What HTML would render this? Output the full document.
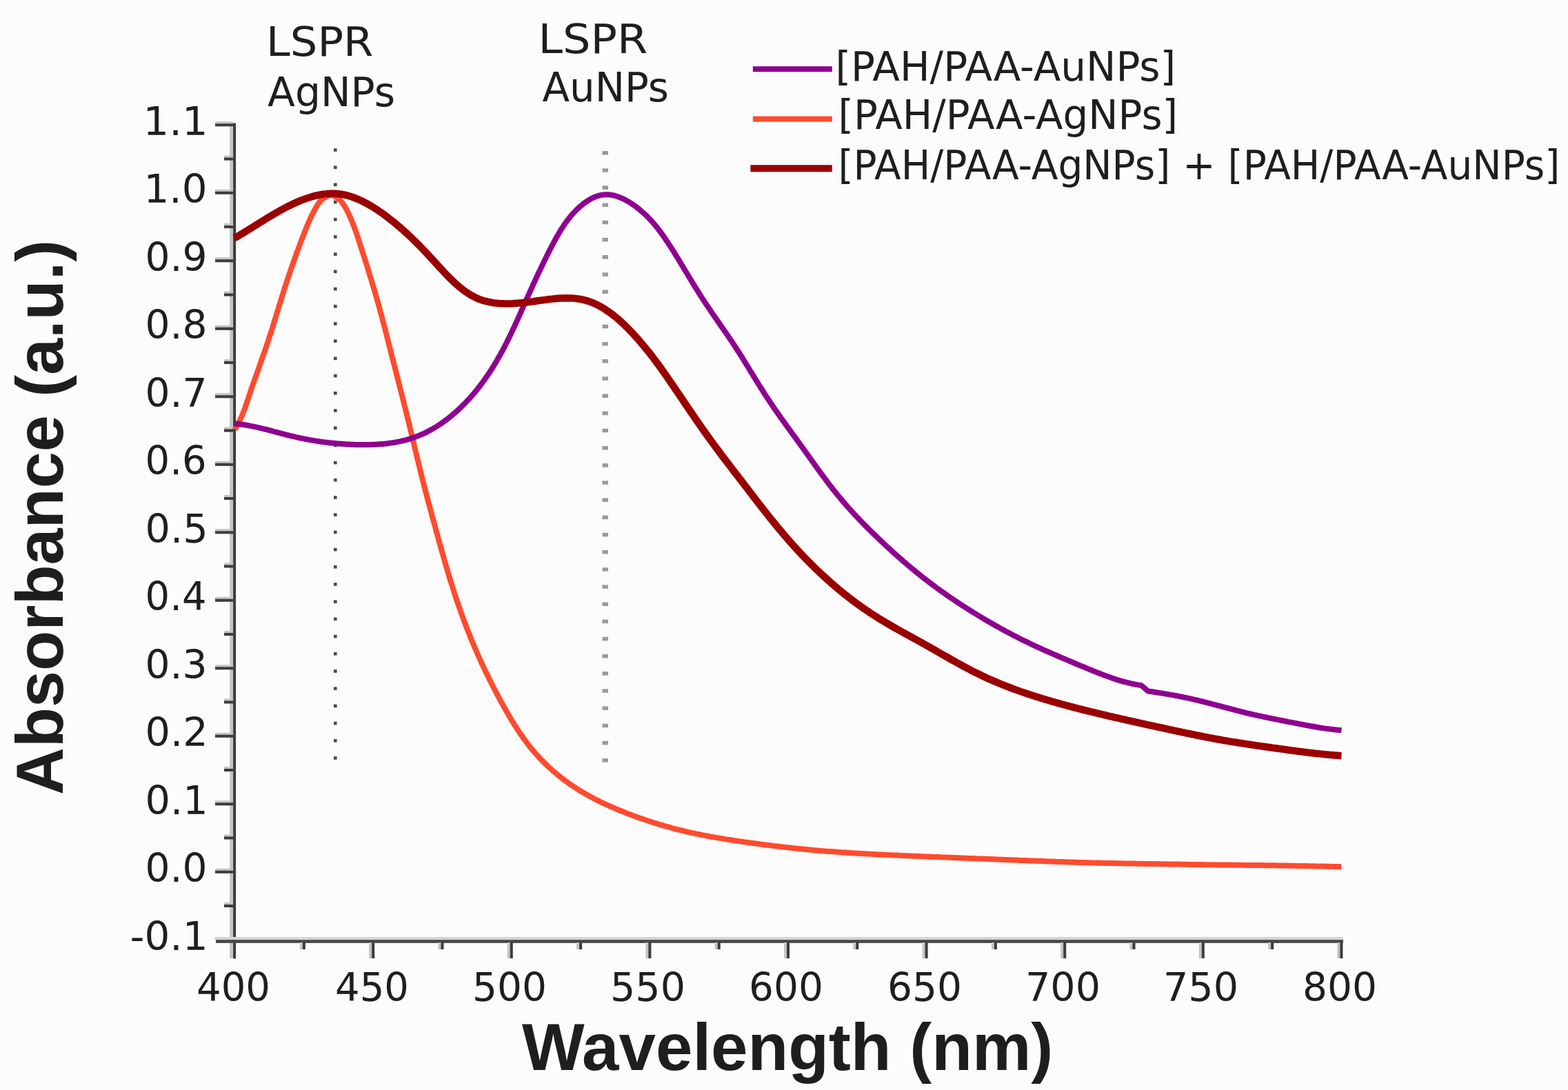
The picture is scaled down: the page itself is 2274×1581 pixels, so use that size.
<!DOCTYPE html>
<html><head><meta charset="utf-8"><title>Absorbance spectra</title>
<style>html,body{margin:0;padding:0;background:#fcfcfc;}svg{display:block;}</style></head>
<body><svg xmlns="http://www.w3.org/2000/svg" width="2274" height="1581" viewBox="0 0 2274 1581">
<rect width="2274" height="1581" fill="#fcfcfc"/>
<rect x="333.2" y="180" width="5" height="1210" fill="#c4c4c4"/>
<rect x="338.1" y="178.5" width="4" height="1212" fill="#3c3c3c"/>
<rect x="311" y="1359" width="1637" height="4.2" fill="#d4d4d4"/>
<rect x="313" y="1363.2" width="1635" height="4.6" fill="#454545"/>
<rect x="312" y="176.3" width="26.1" height="3.5" fill="#c4c4c4"/>
<rect x="312" y="179.3" width="26.1" height="4" fill="#3c3c3c"/>
<rect x="325" y="225.6" width="13.1" height="3.5" fill="#c4c4c4"/>
<rect x="325" y="228.6" width="13.1" height="4" fill="#3c3c3c"/>
<rect x="312" y="274.8" width="26.1" height="3.5" fill="#c4c4c4"/>
<rect x="312" y="277.8" width="26.1" height="4" fill="#3c3c3c"/>
<rect x="325" y="324.1" width="13.1" height="3.5" fill="#c4c4c4"/>
<rect x="325" y="327.1" width="13.1" height="4" fill="#3c3c3c"/>
<rect x="312" y="373.3" width="26.1" height="3.5" fill="#c4c4c4"/>
<rect x="312" y="376.3" width="26.1" height="4" fill="#3c3c3c"/>
<rect x="325" y="422.6" width="13.1" height="3.5" fill="#c4c4c4"/>
<rect x="325" y="425.6" width="13.1" height="4" fill="#3c3c3c"/>
<rect x="312" y="471.8" width="26.1" height="3.5" fill="#c4c4c4"/>
<rect x="312" y="474.8" width="26.1" height="4" fill="#3c3c3c"/>
<rect x="325" y="521.0" width="13.1" height="3.5" fill="#c4c4c4"/>
<rect x="325" y="524.0" width="13.1" height="4" fill="#3c3c3c"/>
<rect x="312" y="570.3" width="26.1" height="3.5" fill="#c4c4c4"/>
<rect x="312" y="573.3" width="26.1" height="4" fill="#3c3c3c"/>
<rect x="325" y="619.5" width="13.1" height="3.5" fill="#c4c4c4"/>
<rect x="325" y="622.5" width="13.1" height="4" fill="#3c3c3c"/>
<rect x="312" y="668.8" width="26.1" height="3.5" fill="#c4c4c4"/>
<rect x="312" y="671.8" width="26.1" height="4" fill="#3c3c3c"/>
<rect x="325" y="718.0" width="13.1" height="3.5" fill="#c4c4c4"/>
<rect x="325" y="721.0" width="13.1" height="4" fill="#3c3c3c"/>
<rect x="312" y="767.3" width="26.1" height="3.5" fill="#c4c4c4"/>
<rect x="312" y="770.3" width="26.1" height="4" fill="#3c3c3c"/>
<rect x="325" y="816.5" width="13.1" height="3.5" fill="#c4c4c4"/>
<rect x="325" y="819.5" width="13.1" height="4" fill="#3c3c3c"/>
<rect x="312" y="865.8" width="26.1" height="3.5" fill="#c4c4c4"/>
<rect x="312" y="868.8" width="26.1" height="4" fill="#3c3c3c"/>
<rect x="325" y="915.0" width="13.1" height="3.5" fill="#c4c4c4"/>
<rect x="325" y="918.0" width="13.1" height="4" fill="#3c3c3c"/>
<rect x="312" y="964.3" width="26.1" height="3.5" fill="#c4c4c4"/>
<rect x="312" y="967.3" width="26.1" height="4" fill="#3c3c3c"/>
<rect x="325" y="1013.5" width="13.1" height="3.5" fill="#c4c4c4"/>
<rect x="325" y="1016.5" width="13.1" height="4" fill="#3c3c3c"/>
<rect x="312" y="1062.8" width="26.1" height="3.5" fill="#c4c4c4"/>
<rect x="312" y="1065.8" width="26.1" height="4" fill="#3c3c3c"/>
<rect x="325" y="1112.0" width="13.1" height="3.5" fill="#c4c4c4"/>
<rect x="325" y="1115.0" width="13.1" height="4" fill="#3c3c3c"/>
<rect x="312" y="1161.3" width="26.1" height="3.5" fill="#c4c4c4"/>
<rect x="312" y="1164.3" width="26.1" height="4" fill="#3c3c3c"/>
<rect x="325" y="1210.5" width="13.1" height="3.5" fill="#c4c4c4"/>
<rect x="325" y="1213.5" width="13.1" height="4" fill="#3c3c3c"/>
<rect x="312" y="1259.8" width="26.1" height="3.5" fill="#c4c4c4"/>
<rect x="312" y="1262.8" width="26.1" height="4" fill="#3c3c3c"/>
<rect x="325" y="1309.0" width="13.1" height="3.5" fill="#c4c4c4"/>
<rect x="325" y="1312.0" width="13.1" height="4" fill="#3c3c3c"/>
<rect x="434.9" y="1367" width="4.5" height="10" fill="#c4c4c4"/>
<rect x="438.9" y="1367" width="4" height="10" fill="#3c3c3c"/>
<rect x="535.2" y="1367" width="4.5" height="23" fill="#c4c4c4"/>
<rect x="539.2" y="1367" width="4" height="23" fill="#3c3c3c"/>
<rect x="635.5" y="1367" width="4.5" height="10" fill="#c4c4c4"/>
<rect x="639.5" y="1367" width="4" height="10" fill="#3c3c3c"/>
<rect x="735.8" y="1367" width="4.5" height="23" fill="#c4c4c4"/>
<rect x="739.8" y="1367" width="4" height="23" fill="#3c3c3c"/>
<rect x="836.1" y="1367" width="4.5" height="10" fill="#c4c4c4"/>
<rect x="840.1" y="1367" width="4" height="10" fill="#3c3c3c"/>
<rect x="936.4" y="1367" width="4.5" height="23" fill="#c4c4c4"/>
<rect x="940.4" y="1367" width="4" height="23" fill="#3c3c3c"/>
<rect x="1036.7" y="1367" width="4.5" height="10" fill="#c4c4c4"/>
<rect x="1040.7" y="1367" width="4" height="10" fill="#3c3c3c"/>
<rect x="1137.0" y="1367" width="4.5" height="23" fill="#c4c4c4"/>
<rect x="1141.0" y="1367" width="4" height="23" fill="#3c3c3c"/>
<rect x="1237.3" y="1367" width="4.5" height="10" fill="#c4c4c4"/>
<rect x="1241.3" y="1367" width="4" height="10" fill="#3c3c3c"/>
<rect x="1337.6" y="1367" width="4.5" height="23" fill="#c4c4c4"/>
<rect x="1341.6" y="1367" width="4" height="23" fill="#3c3c3c"/>
<rect x="1437.9" y="1367" width="4.5" height="10" fill="#c4c4c4"/>
<rect x="1441.9" y="1367" width="4" height="10" fill="#3c3c3c"/>
<rect x="1538.2" y="1367" width="4.5" height="23" fill="#c4c4c4"/>
<rect x="1542.2" y="1367" width="4" height="23" fill="#3c3c3c"/>
<rect x="1638.5" y="1367" width="4.5" height="10" fill="#c4c4c4"/>
<rect x="1642.5" y="1367" width="4" height="10" fill="#3c3c3c"/>
<rect x="1738.8" y="1367" width="4.5" height="23" fill="#c4c4c4"/>
<rect x="1742.8" y="1367" width="4" height="23" fill="#3c3c3c"/>
<rect x="1839.1" y="1367" width="4.5" height="10" fill="#c4c4c4"/>
<rect x="1843.1" y="1367" width="4" height="10" fill="#3c3c3c"/>
<rect x="1939.4" y="1367" width="4.5" height="23" fill="#c4c4c4"/>
<rect x="1943.4" y="1367" width="4" height="23" fill="#3c3c3c"/>
<rect x="484" y="215.2" width="4.6" height="4.6" fill="#4a4a4a"/>
<rect x="484" y="240.4" width="4.6" height="4.6" fill="#4a4a4a"/>
<rect x="484" y="265.6" width="4.6" height="4.6" fill="#4a4a4a"/>
<rect x="484" y="290.8" width="4.6" height="4.6" fill="#4a4a4a"/>
<rect x="484" y="316.0" width="4.6" height="4.6" fill="#4a4a4a"/>
<rect x="484" y="341.2" width="4.6" height="4.6" fill="#4a4a4a"/>
<rect x="484" y="366.4" width="4.6" height="4.6" fill="#4a4a4a"/>
<rect x="484" y="391.6" width="4.6" height="4.6" fill="#4a4a4a"/>
<rect x="484" y="416.8" width="4.6" height="4.6" fill="#4a4a4a"/>
<rect x="484" y="442.0" width="4.6" height="4.6" fill="#4a4a4a"/>
<rect x="484" y="467.2" width="4.6" height="4.6" fill="#4a4a4a"/>
<rect x="484" y="492.4" width="4.6" height="4.6" fill="#4a4a4a"/>
<rect x="484" y="517.6" width="4.6" height="4.6" fill="#4a4a4a"/>
<rect x="484" y="542.8" width="4.6" height="4.6" fill="#4a4a4a"/>
<rect x="484" y="568.0" width="4.6" height="4.6" fill="#4a4a4a"/>
<rect x="484" y="593.2" width="4.6" height="4.6" fill="#4a4a4a"/>
<rect x="484" y="618.4" width="4.6" height="4.6" fill="#4a4a4a"/>
<rect x="484" y="643.6" width="4.6" height="4.6" fill="#4a4a4a"/>
<rect x="484" y="668.8" width="4.6" height="4.6" fill="#4a4a4a"/>
<rect x="484" y="694.0" width="4.6" height="4.6" fill="#4a4a4a"/>
<rect x="484" y="719.2" width="4.6" height="4.6" fill="#4a4a4a"/>
<rect x="484" y="744.4" width="4.6" height="4.6" fill="#4a4a4a"/>
<rect x="484" y="769.6" width="4.6" height="4.6" fill="#4a4a4a"/>
<rect x="484" y="794.8" width="4.6" height="4.6" fill="#4a4a4a"/>
<rect x="484" y="820.0" width="4.6" height="4.6" fill="#4a4a4a"/>
<rect x="484" y="845.2" width="4.6" height="4.6" fill="#4a4a4a"/>
<rect x="484" y="870.4" width="4.6" height="4.6" fill="#4a4a4a"/>
<rect x="484" y="895.6" width="4.6" height="4.6" fill="#4a4a4a"/>
<rect x="484" y="920.8" width="4.6" height="4.6" fill="#4a4a4a"/>
<rect x="484" y="946.0" width="4.6" height="4.6" fill="#4a4a4a"/>
<rect x="484" y="971.2" width="4.6" height="4.6" fill="#4a4a4a"/>
<rect x="484" y="996.4" width="4.6" height="4.6" fill="#4a4a4a"/>
<rect x="484" y="1021.6" width="4.6" height="4.6" fill="#4a4a4a"/>
<rect x="484" y="1046.8" width="4.6" height="4.6" fill="#4a4a4a"/>
<rect x="484" y="1072.0" width="4.6" height="4.6" fill="#4a4a4a"/>
<rect x="484" y="1097.2" width="4.6" height="4.6" fill="#4a4a4a"/>
<rect x="873.5" y="219.1" width="8.5" height="5.5" fill="#9a9a9a"/>
<rect x="873.5" y="244.3" width="8.5" height="5.5" fill="#9a9a9a"/>
<rect x="873.5" y="269.4" width="8.5" height="5.5" fill="#9a9a9a"/>
<rect x="873.5" y="294.6" width="8.5" height="5.5" fill="#9a9a9a"/>
<rect x="873.5" y="319.8" width="8.5" height="5.5" fill="#9a9a9a"/>
<rect x="873.5" y="344.9" width="8.5" height="5.5" fill="#9a9a9a"/>
<rect x="873.5" y="370.1" width="8.5" height="5.5" fill="#9a9a9a"/>
<rect x="873.5" y="395.3" width="8.5" height="5.5" fill="#9a9a9a"/>
<rect x="873.5" y="420.5" width="8.5" height="5.5" fill="#9a9a9a"/>
<rect x="873.5" y="445.6" width="8.5" height="5.5" fill="#9a9a9a"/>
<rect x="873.5" y="470.8" width="8.5" height="5.5" fill="#9a9a9a"/>
<rect x="873.5" y="496.0" width="8.5" height="5.5" fill="#9a9a9a"/>
<rect x="873.5" y="521.1" width="8.5" height="5.5" fill="#9a9a9a"/>
<rect x="873.5" y="546.3" width="8.5" height="5.5" fill="#9a9a9a"/>
<rect x="873.5" y="571.5" width="8.5" height="5.5" fill="#9a9a9a"/>
<rect x="873.5" y="596.7" width="8.5" height="5.5" fill="#9a9a9a"/>
<rect x="873.5" y="621.8" width="8.5" height="5.5" fill="#9a9a9a"/>
<rect x="873.5" y="647.0" width="8.5" height="5.5" fill="#9a9a9a"/>
<rect x="873.5" y="672.2" width="8.5" height="5.5" fill="#9a9a9a"/>
<rect x="873.5" y="697.3" width="8.5" height="5.5" fill="#9a9a9a"/>
<rect x="873.5" y="722.5" width="8.5" height="5.5" fill="#9a9a9a"/>
<rect x="873.5" y="747.7" width="8.5" height="5.5" fill="#9a9a9a"/>
<rect x="873.5" y="772.8" width="8.5" height="5.5" fill="#9a9a9a"/>
<rect x="873.5" y="798.0" width="8.5" height="5.5" fill="#9a9a9a"/>
<rect x="873.5" y="823.2" width="8.5" height="5.5" fill="#9a9a9a"/>
<rect x="873.5" y="848.4" width="8.5" height="5.5" fill="#9a9a9a"/>
<rect x="873.5" y="873.5" width="8.5" height="5.5" fill="#9a9a9a"/>
<rect x="873.5" y="898.7" width="8.5" height="5.5" fill="#9a9a9a"/>
<rect x="873.5" y="923.9" width="8.5" height="5.5" fill="#9a9a9a"/>
<rect x="873.5" y="949.0" width="8.5" height="5.5" fill="#9a9a9a"/>
<rect x="873.5" y="974.2" width="8.5" height="5.5" fill="#9a9a9a"/>
<rect x="873.5" y="999.4" width="8.5" height="5.5" fill="#9a9a9a"/>
<rect x="873.5" y="1024.5" width="8.5" height="5.5" fill="#9a9a9a"/>
<rect x="873.5" y="1049.7" width="8.5" height="5.5" fill="#9a9a9a"/>
<rect x="873.5" y="1074.9" width="8.5" height="5.5" fill="#9a9a9a"/>
<rect x="873.5" y="1100.1" width="8.5" height="5.5" fill="#9a9a9a"/>
<path d="M340.5,623.0 L342.1,620.5 L343.6,617.9 L345.0,615.4 L346.4,612.7 L347.7,610.1 L348.9,607.4 L350.2,604.7 L351.3,602.0 L352.4,599.2 L353.5,596.5 L354.5,593.7 L355.6,590.9 L356.5,588.0 L357.5,585.2 L358.5,582.4 L359.4,579.6 L360.4,576.7 L361.3,573.9 L362.3,571.0 L363.2,568.2 L364.2,565.4 L365.1,562.5 L366.1,559.7 L367.1,556.9 L368.1,554.1 L369.1,551.2 L370.1,548.4 L371.1,545.6 L372.1,542.8 L373.1,540.0 L374.1,537.2 L375.1,534.4 L376.1,531.5 L377.1,528.7 L378.1,525.9 L379.0,523.1 L380.0,520.3 L381.0,517.5 L382.0,514.7 L383.0,511.9 L384.0,509.1 L385.0,506.2 L385.9,503.4 L386.9,500.6 L387.8,497.8 L388.8,494.9 L389.7,492.1 L390.6,489.3 L391.5,486.4 L392.5,483.6 L393.4,480.7 L394.3,477.9 L395.2,475.1 L396.0,472.2 L396.9,469.4 L397.8,466.5 L398.7,463.6 L399.6,460.8 L400.4,457.9 L401.3,455.1 L402.2,452.2 L403.1,449.4 L403.9,446.5 L404.8,443.7 L405.7,440.8 L406.6,438.0 L407.5,435.1 L408.3,432.2 L409.2,429.4 L410.1,426.5 L411.0,423.7 L411.9,420.9 L412.8,418.0 L413.7,415.2 L414.7,412.3 L415.6,409.5 L416.5,406.7 L417.5,403.8 L418.4,401.0 L419.4,398.2 L420.3,395.4 L421.3,392.5 L422.2,389.7 L423.2,386.9 L424.2,384.1 L425.2,381.3 L426.2,378.5 L427.2,375.7 L428.2,372.8 L429.2,370.0 L430.2,367.2 L431.2,364.4 L432.3,361.6 L433.3,358.8 L434.3,356.0 L435.4,353.3 L436.4,350.5 L437.5,347.7 L438.5,344.9 L439.6,342.1 L440.7,339.3 L441.8,336.5 L442.8,333.8 L444.0,331.0 L445.1,328.2 L446.2,325.5 L447.4,322.8 L448.6,320.0 L449.9,317.3 L451.1,314.6 L452.4,311.9 L453.8,309.2 L455.2,306.6 L456.6,303.9 L458.1,301.3 L459.6,298.7 L461.2,296.2 L463.0,293.8 L464.8,291.6 L466.9,289.5 L469.1,287.7 L471.4,286.1 L474.0,284.7 L476.9,283.7 L480.0,283.0 L483.1,283.9 L485.9,285.1 L488.4,286.6 L490.8,288.3 L493.0,290.3 L495.0,292.4 L496.8,294.7 L498.5,297.1 L500.1,299.6 L501.6,302.2 L503.0,304.8 L504.4,307.5 L505.7,310.2 L506.9,312.9 L508.2,315.7 L509.4,318.4 L510.5,321.2 L511.6,324.0 L512.7,326.8 L513.7,329.5 L514.8,332.4 L515.8,335.2 L516.8,338.0 L517.7,340.8 L518.7,343.6 L519.6,346.5 L520.5,349.3 L521.5,352.2 L522.4,355.0 L523.3,357.9 L524.2,360.7 L525.1,363.6 L526.0,366.4 L527.0,369.3 L527.9,372.1 L528.8,375.0 L529.7,377.8 L530.6,380.7 L531.5,383.5 L532.4,386.4 L533.3,389.3 L534.2,392.1 L535.1,395.0 L535.9,397.9 L536.8,400.7 L537.7,403.6 L538.6,406.4 L539.4,409.3 L540.3,412.2 L541.2,415.1 L542.0,417.9 L542.9,420.8 L543.7,423.7 L544.6,426.5 L545.4,429.4 L546.2,432.3 L547.0,435.2 L547.9,438.0 L548.7,440.9 L549.5,443.8 L550.3,446.7 L551.1,449.6 L551.8,452.5 L552.6,455.3 L553.4,458.2 L554.2,461.1 L554.9,464.0 L555.7,466.9 L556.5,469.8 L557.2,472.7 L558.0,475.6 L558.7,478.4 L559.5,481.3 L560.2,484.2 L561.0,487.1 L561.7,490.0 L562.4,492.9 L563.2,495.8 L563.9,498.7 L564.6,501.6 L565.4,504.5 L566.1,507.4 L566.8,510.3 L567.6,513.2 L568.3,516.1 L569.0,519.0 L569.8,521.9 L570.5,524.8 L571.3,527.7 L572.0,530.5 L572.7,533.4 L573.5,536.3 L574.2,539.2 L575.0,542.1 L575.7,545.0 L576.4,547.9 L577.2,550.8 L577.9,553.7 L578.7,556.6 L579.4,559.5 L580.1,562.4 L580.9,565.3 L581.6,568.2 L582.4,571.1 L583.1,574.0 L583.8,576.9 L584.6,579.8 L585.3,582.7 L586.0,585.6 L586.7,588.5 L587.5,591.4 L588.2,594.3 L588.9,597.2 L589.6,600.1 L590.3,603.0 L591.1,605.9 L591.8,608.8 L592.5,611.7 L593.2,614.6 L593.9,617.5 L594.6,620.5 L595.3,623.4 L596.0,626.3 L596.7,629.2 L597.4,632.1 L598.1,635.0 L598.8,637.9 L599.5,640.8 L600.2,643.7 L600.8,646.6 L601.5,649.5 L602.2,652.4 L602.9,655.4 L603.6,658.3 L604.3,661.2 L605.0,664.1 L605.7,667.0 L606.4,669.9 L607.1,672.8 L607.9,675.7 L608.6,678.6 L609.3,681.5 L610.0,684.4 L610.7,687.3 L611.5,690.2 L612.2,693.1 L612.9,696.0 L613.7,698.9 L614.4,701.8 L615.1,704.7 L615.9,707.6 L616.6,710.5 L617.4,713.4 L618.2,716.3 L618.9,719.2 L619.7,722.1 L620.4,725.0 L621.2,727.9 L622.0,730.8 L622.8,733.6 L623.5,736.5 L624.3,739.4 L625.1,742.3 L625.9,745.2 L626.6,748.1 L627.4,751.0 L628.2,753.9 L629.0,756.7 L629.8,759.6 L630.6,762.5 L631.4,765.4 L632.2,768.3 L633.0,771.2 L633.8,774.1 L634.5,776.9 L635.3,779.8 L636.1,782.7 L636.9,785.6 L637.7,788.5 L638.5,791.4 L639.3,794.2 L640.1,797.1 L640.9,800.0 L641.8,802.9 L642.6,805.8 L643.4,808.6 L644.2,811.5 L645.0,814.4 L645.9,817.3 L646.7,820.1 L647.5,823.0 L648.4,825.9 L649.2,828.7 L650.1,831.6 L651.0,834.5 L651.8,837.3 L652.7,840.2 L653.6,843.1 L654.5,845.9 L655.4,848.8 L656.3,851.6 L657.2,854.5 L658.1,857.3 L659.0,860.2 L659.9,863.0 L660.9,865.9 L661.8,868.7 L662.8,871.6 L663.7,874.4 L664.7,877.3 L665.7,880.1 L666.7,882.9 L667.7,885.8 L668.7,888.6 L669.7,891.4 L670.7,894.2 L671.8,897.0 L672.8,899.8 L673.9,902.7 L674.9,905.5 L676.0,908.3 L677.1,911.1 L678.1,913.9 L679.2,916.6 L680.3,919.4 L681.5,922.2 L682.6,925.0 L683.7,927.8 L684.9,930.5 L686.0,933.3 L687.2,936.0 L688.3,938.8 L689.5,941.5 L690.7,944.3 L691.9,947.0 L693.1,949.8 L694.3,952.5 L695.5,955.2 L696.8,957.9 L698.0,960.7 L699.3,963.4 L700.5,966.1 L701.8,968.8 L703.1,971.5 L704.4,974.2 L705.7,976.9 L707.0,979.5 L708.3,982.2 L709.6,984.9 L711.0,987.6 L712.3,990.3 L713.7,992.9 L715.0,995.6 L716.4,998.3 L717.8,1000.9 L719.1,1003.6 L720.5,1006.2 L721.9,1008.9 L723.3,1011.5 L724.8,1014.2 L726.2,1016.8 L727.6,1019.5 L729.1,1022.1 L730.5,1024.7 L732.0,1027.4 L733.5,1030.0 L735.0,1032.6 L736.5,1035.2 L738.0,1037.8 L739.5,1040.4 L741.0,1043.0 L742.6,1045.6 L744.2,1048.1 L745.7,1050.7 L747.4,1053.2 L749.0,1055.7 L750.6,1058.3 L752.3,1060.8 L753.9,1063.2 L755.6,1065.7 L757.4,1068.2 L759.1,1070.6 L760.8,1073.0 L762.6,1075.4 L764.4,1077.8 L766.2,1080.2 L768.1,1082.5 L770.0,1084.9 L771.9,1087.2 L773.8,1089.4 L775.7,1091.7 L777.7,1093.9 L779.7,1096.2 L781.7,1098.4 L783.8,1100.5 L785.8,1102.7 L787.9,1104.8 L790.0,1106.9 L792.2,1109.0 L794.3,1111.1 L796.5,1113.1 L798.7,1115.1 L800.9,1117.1 L803.2,1119.1 L805.4,1121.0 L807.7,1122.9 L810.0,1124.8 L812.4,1126.7 L814.7,1128.5 L817.1,1130.4 L819.5,1132.2 L821.9,1133.9 L824.3,1135.7 L826.7,1137.4 L829.2,1139.1 L831.7,1140.8 L834.2,1142.4 L836.7,1144.0 L839.2,1145.6 L841.7,1147.2 L844.3,1148.7 L846.9,1150.3 L849.5,1151.8 L852.1,1153.2 L854.7,1154.7 L857.3,1156.1 L860.0,1157.5 L862.6,1158.9 L865.3,1160.3 L868.0,1161.6 L870.7,1163.0 L873.4,1164.3 L876.1,1165.5 L878.8,1166.8 L881.5,1168.1 L884.3,1169.3 L887.0,1170.5 L889.8,1171.7 L892.5,1172.9 L895.3,1174.0 L898.1,1175.2 L900.8,1176.3 L903.6,1177.4 L906.4,1178.5 L909.2,1179.6 L912.0,1180.7 L914.8,1181.7 L917.6,1182.8 L920.4,1183.8 L923.3,1184.9 L926.1,1185.9 L928.9,1186.9 L931.7,1187.8 L934.6,1188.8 L937.4,1189.8 L940.2,1190.7 L943.1,1191.6 L945.9,1192.6 L948.8,1193.5 L951.6,1194.4 L954.5,1195.2 L957.3,1196.1 L960.2,1196.9 L963.0,1197.8 L965.9,1198.6 L968.8,1199.4 L971.7,1200.2 L974.5,1201.0 L977.4,1201.8 L980.3,1202.5 L983.2,1203.3 L986.1,1204.0 L989.0,1204.7 L991.9,1205.4 L994.8,1206.1 L997.7,1206.8 L1000.6,1207.4 L1003.5,1208.1 L1006.5,1208.7 L1009.4,1209.3 L1012.3,1209.9 L1015.3,1210.5 L1018.2,1211.1 L1021.1,1211.7 L1024.1,1212.3 L1027.0,1212.8 L1030.0,1213.4 L1032.9,1213.9 L1035.9,1214.4 L1038.8,1214.9 L1041.8,1215.4 L1044.7,1215.9 L1047.7,1216.4 L1050.7,1216.9 L1053.6,1217.4 L1056.6,1217.8 L1059.5,1218.3 L1062.5,1218.7 L1065.5,1219.2 L1068.4,1219.6 L1071.4,1220.1 L1074.4,1220.5 L1077.3,1220.9 L1080.3,1221.4 L1083.3,1221.8 L1086.3,1222.2 L1089.2,1222.6 L1092.2,1223.0 L1095.2,1223.4 L1098.1,1223.8 L1101.1,1224.2 L1104.1,1224.6 L1107.0,1225.0 L1110.0,1225.4 L1113.0,1225.8 L1116.0,1226.1 L1118.9,1226.5 L1121.9,1226.9 L1124.9,1227.2 L1127.8,1227.6 L1130.8,1227.9 L1133.8,1228.3 L1136.8,1228.6 L1139.7,1229.0 L1142.7,1229.3 L1145.7,1229.6 L1148.7,1230.0 L1151.6,1230.3 L1154.6,1230.6 L1157.6,1230.9 L1160.6,1231.2 L1163.6,1231.5 L1166.5,1231.8 L1169.5,1232.1 L1172.5,1232.4 L1175.5,1232.6 L1178.5,1232.9 L1181.5,1233.2 L1184.4,1233.4 L1187.4,1233.7 L1190.4,1233.9 L1193.4,1234.2 L1196.4,1234.4 L1199.4,1234.7 L1202.4,1234.9 L1205.3,1235.1 L1208.3,1235.3 L1211.3,1235.6 L1214.3,1235.8 L1217.3,1236.0 L1220.3,1236.2 L1223.3,1236.4 L1226.3,1236.6 L1229.3,1236.8 L1232.3,1237.0 L1235.2,1237.2 L1238.2,1237.4 L1241.2,1237.5 L1244.2,1237.7 L1247.2,1237.9 L1250.2,1238.1 L1253.2,1238.2 L1256.2,1238.4 L1259.2,1238.6 L1262.2,1238.7 L1265.2,1238.9 L1268.2,1239.0 L1271.1,1239.2 L1274.1,1239.4 L1277.1,1239.5 L1280.1,1239.7 L1283.1,1239.8 L1286.1,1239.9 L1289.1,1240.1 L1292.1,1240.2 L1295.1,1240.4 L1298.1,1240.5 L1301.1,1240.6 L1304.1,1240.8 L1307.1,1240.9 L1310.0,1241.0 L1313.0,1241.2 L1316.0,1241.3 L1319.0,1241.4 L1322.0,1241.6 L1325.0,1241.7 L1328.0,1241.8 L1331.0,1241.9 L1334.0,1242.1 L1337.0,1242.2 L1340.0,1242.3 L1343.0,1242.4 L1346.0,1242.5 L1349.0,1242.7 L1352.0,1242.8 L1354.9,1242.9 L1357.9,1243.0 L1360.9,1243.1 L1363.9,1243.3 L1366.9,1243.4 L1369.9,1243.5 L1372.9,1243.6 L1375.9,1243.7 L1378.9,1243.8 L1381.9,1244.0 L1384.9,1244.1 L1387.9,1244.2 L1390.9,1244.3 L1393.9,1244.4 L1396.9,1244.5 L1399.9,1244.7 L1402.9,1244.8 L1405.8,1244.9 L1408.8,1245.0 L1411.8,1245.1 L1414.8,1245.2 L1417.8,1245.4 L1420.8,1245.5 L1423.8,1245.6 L1426.8,1245.7 L1429.8,1245.8 L1432.8,1246.0 L1435.8,1246.1 L1438.8,1246.2 L1441.8,1246.3 L1444.8,1246.4 L1447.8,1246.6 L1450.8,1246.7 L1453.8,1246.8 L1456.7,1246.9 L1459.7,1247.0 L1462.7,1247.2 L1465.7,1247.3 L1468.7,1247.4 L1471.7,1247.5 L1474.7,1247.6 L1477.7,1247.8 L1480.7,1247.9 L1483.7,1248.0 L1486.7,1248.1 L1489.7,1248.2 L1492.7,1248.3 L1495.7,1248.5 L1498.7,1248.6 L1501.7,1248.7 L1504.6,1248.8 L1507.6,1248.9 L1510.6,1249.0 L1513.6,1249.1 L1516.6,1249.3 L1519.6,1249.4 L1522.6,1249.5 L1525.6,1249.6 L1528.6,1249.7 L1531.6,1249.8 L1534.6,1249.9 L1537.6,1250.0 L1540.6,1250.1 L1543.6,1250.2 L1546.6,1250.3 L1549.6,1250.4 L1552.6,1250.5 L1555.5,1250.6 L1558.5,1250.7 L1561.5,1250.8 L1564.5,1250.9 L1567.5,1251.0 L1570.5,1251.0 L1573.5,1251.1 L1576.5,1251.2 L1579.5,1251.3 L1582.5,1251.4 L1585.5,1251.5 L1588.5,1251.5 L1591.5,1251.6 L1594.5,1251.7 L1597.5,1251.7 L1600.5,1251.8 L1603.5,1251.9 L1606.5,1251.9 L1609.5,1252.0 L1612.5,1252.1 L1615.5,1252.1 L1618.5,1252.2 L1621.4,1252.2 L1624.4,1252.3 L1627.4,1252.3 L1630.4,1252.4 L1633.4,1252.5 L1636.4,1252.5 L1639.4,1252.6 L1642.4,1252.6 L1645.4,1252.6 L1648.4,1252.7 L1651.4,1252.7 L1654.4,1252.8 L1657.4,1252.8 L1660.4,1252.9 L1663.4,1252.9 L1666.4,1253.0 L1669.4,1253.0 L1672.4,1253.0 L1675.4,1253.1 L1678.4,1253.1 L1681.4,1253.2 L1684.4,1253.2 L1687.4,1253.3 L1690.3,1253.3 L1693.3,1253.4 L1696.3,1253.4 L1699.3,1253.4 L1702.3,1253.5 L1705.3,1253.5 L1708.3,1253.6 L1711.3,1253.6 L1714.3,1253.7 L1717.3,1253.7 L1720.3,1253.8 L1723.3,1253.8 L1726.3,1253.9 L1729.3,1253.9 L1732.3,1253.9 L1735.3,1254.0 L1738.3,1254.0 L1741.3,1254.1 L1744.3,1254.1 L1747.3,1254.2 L1750.3,1254.2 L1753.3,1254.2 L1756.3,1254.3 L1759.3,1254.3 L1762.3,1254.4 L1765.2,1254.4 L1768.2,1254.4 L1771.2,1254.5 L1774.2,1254.5 L1777.2,1254.5 L1780.2,1254.6 L1783.2,1254.6 L1786.2,1254.6 L1789.2,1254.7 L1792.2,1254.7 L1795.2,1254.7 L1798.2,1254.8 L1801.2,1254.8 L1804.2,1254.8 L1807.2,1254.9 L1810.2,1254.9 L1813.2,1254.9 L1816.2,1255.0 L1819.2,1255.0 L1822.2,1255.0 L1825.2,1255.1 L1828.2,1255.1 L1831.2,1255.1 L1834.2,1255.2 L1837.2,1255.2 L1840.1,1255.2 L1843.1,1255.3 L1846.1,1255.3 L1849.1,1255.3 L1852.1,1255.4 L1855.1,1255.4 L1858.1,1255.5 L1861.1,1255.5 L1864.1,1255.6 L1867.1,1255.6 L1870.1,1255.7 L1873.1,1255.7 L1876.1,1255.8 L1879.1,1255.8 L1882.1,1255.9 L1885.1,1255.9 L1888.1,1256.0 L1891.1,1256.0 L1894.1,1256.1 L1897.1,1256.2 L1900.1,1256.2 L1903.1,1256.3 L1906.1,1256.3 L1909.1,1256.4 L1912.0,1256.4 L1915.0,1256.5 L1918.0,1256.6 L1921.0,1256.6 L1924.0,1256.7 L1927.0,1256.7 L1930.0,1256.8 L1933.0,1256.8 L1936.0,1256.9 L1939.0,1256.9 L1942.0,1257.0 L1945.0,1257.0" fill="none" stroke="#ff4b2e" stroke-width="8" stroke-linejoin="round"/>
<path d="M340.0,614.5 L343.0,614.8 L345.9,615.1 L348.9,615.4 L351.9,615.8 L354.8,616.3 L357.8,616.8 L360.7,617.3 L363.7,617.9 L366.6,618.4 L369.5,619.1 L372.5,619.7 L375.4,620.4 L378.3,621.0 L381.3,621.8 L384.2,622.5 L387.1,623.2 L390.0,624.0 L393.0,624.7 L395.9,625.5 L398.8,626.3 L401.7,627.0 L404.6,627.8 L407.5,628.6 L410.4,629.3 L413.4,630.1 L416.3,630.8 L419.2,631.6 L422.1,632.3 L425.0,633.0 L427.9,633.7 L430.8,634.3 L433.8,635.0 L436.7,635.6 L439.6,636.2 L442.5,636.8 L445.4,637.3 L448.4,637.9 L451.3,638.4 L454.2,638.9 L457.1,639.4 L460.1,639.8 L463.0,640.3 L465.9,640.7 L468.9,641.1 L471.8,641.5 L474.8,641.8 L477.7,642.2 L480.7,642.5 L483.6,642.8 L486.6,643.1 L489.6,643.4 L492.5,643.6 L495.5,643.8 L498.5,644.0 L501.5,644.2 L504.5,644.4 L507.5,644.5 L510.5,644.7 L513.5,644.8 L516.5,644.9 L519.5,645.0 L522.6,645.0 L525.6,645.1 L528.6,645.1 L531.7,645.0 L534.7,645.0 L537.7,644.9 L540.7,644.8 L543.8,644.7 L546.8,644.5 L549.8,644.3 L552.8,644.1 L555.8,643.9 L558.8,643.6 L561.8,643.2 L564.8,642.8 L567.8,642.4 L570.7,642.0 L573.7,641.5 L576.6,640.9 L579.6,640.3 L582.5,639.7 L585.4,639.0 L588.2,638.3 L591.1,637.5 L594.0,636.7 L596.8,635.8 L599.6,634.8 L602.4,633.8 L605.1,632.8 L607.9,631.7 L610.6,630.5 L613.3,629.3 L616.0,628.1 L618.6,626.8 L621.3,625.4 L623.9,624.0 L626.5,622.6 L629.0,621.1 L631.6,619.6 L634.1,618.0 L636.6,616.4 L639.1,614.8 L641.5,613.1 L643.9,611.3 L646.4,609.6 L648.7,607.8 L651.1,605.9 L653.4,604.1 L655.7,602.2 L658.0,600.2 L660.3,598.3 L662.5,596.3 L664.7,594.3 L666.9,592.2 L669.1,590.1 L671.2,588.0 L673.3,585.9 L675.4,583.8 L677.5,581.6 L679.5,579.4 L681.6,577.2 L683.5,574.9 L685.5,572.7 L687.5,570.4 L689.4,568.1 L691.3,565.8 L693.1,563.4 L695.0,561.1 L696.8,558.7 L698.6,556.3 L700.4,553.9 L702.2,551.4 L703.9,549.0 L705.6,546.5 L707.3,544.1 L709.0,541.6 L710.6,539.1 L712.3,536.5 L713.9,534.0 L715.5,531.5 L717.0,528.9 L718.6,526.4 L720.1,523.8 L721.6,521.2 L723.1,518.6 L724.6,516.0 L726.0,513.4 L727.5,510.8 L728.9,508.1 L730.3,505.5 L731.7,502.8 L733.0,500.2 L734.4,497.5 L735.7,494.9 L737.1,492.2 L738.4,489.5 L739.7,486.8 L741.0,484.2 L742.3,481.5 L743.5,478.8 L744.8,476.1 L746.1,473.4 L747.3,470.7 L748.5,467.9 L749.8,465.2 L751.0,462.5 L752.2,459.8 L753.5,457.1 L754.7,454.4 L755.9,451.6 L757.1,448.9 L758.3,446.2 L759.5,443.5 L760.7,440.7 L761.9,438.0 L763.1,435.3 L764.4,432.6 L765.6,429.8 L766.8,427.1 L768.0,424.4 L769.2,421.7 L770.5,419.0 L771.7,416.3 L772.9,413.5 L774.2,410.8 L775.4,408.1 L776.7,405.4 L777.9,402.7 L779.2,400.0 L780.4,397.3 L781.7,394.6 L783.0,391.9 L784.3,389.2 L785.6,386.5 L786.9,383.8 L788.2,381.1 L789.5,378.4 L790.8,375.7 L792.1,373.0 L793.5,370.3 L794.8,367.6 L796.2,364.9 L797.5,362.2 L798.9,359.6 L800.3,356.9 L801.7,354.2 L803.1,351.5 L804.6,348.9 L806.0,346.2 L807.5,343.6 L809.0,341.0 L810.5,338.4 L812.0,335.8 L813.6,333.2 L815.2,330.7 L816.9,328.2 L818.5,325.7 L820.2,323.3 L822.0,320.8 L823.8,318.4 L825.6,316.1 L827.5,313.8 L829.4,311.5 L831.4,309.3 L833.5,307.1 L835.5,304.9 L837.7,302.8 L839.9,300.8 L842.2,298.8 L844.5,296.9 L846.8,295.0 L849.3,293.2 L851.7,291.6 L854.3,290.0 L856.8,288.5 L859.4,287.2 L862.1,286.0 L864.7,284.9 L867.4,284.0 L870.2,283.3 L873.0,282.8 L875.8,282.4 L878.6,282.2 L881.4,282.2 L884.3,282.5 L887.1,282.9 L890.0,283.5 L892.8,284.2 L895.7,285.1 L898.5,286.2 L901.4,287.3 L904.2,288.6 L906.9,290.0 L909.7,291.6 L912.4,293.1 L915.0,294.8 L917.7,296.5 L920.2,298.3 L922.7,300.1 L925.1,302.0 L927.5,303.9 L929.8,305.9 L932.1,307.9 L934.4,309.9 L936.5,311.9 L938.7,314.0 L940.8,316.2 L942.8,318.3 L944.8,320.5 L946.8,322.7 L948.7,325.0 L950.6,327.2 L952.5,329.5 L954.3,331.9 L956.1,334.2 L957.9,336.6 L959.6,339.0 L961.4,341.4 L963.1,343.8 L964.7,346.2 L966.4,348.7 L968.1,351.2 L969.7,353.7 L971.3,356.1 L973.0,358.7 L974.6,361.2 L976.2,363.7 L977.8,366.2 L979.3,368.8 L980.9,371.3 L982.5,373.9 L984.1,376.4 L985.6,379.0 L987.2,381.6 L988.7,384.1 L990.3,386.7 L991.8,389.3 L993.4,391.9 L994.9,394.4 L996.5,397.0 L998.0,399.6 L999.6,402.2 L1001.2,404.8 L1002.7,407.3 L1004.3,409.9 L1005.8,412.5 L1007.4,415.0 L1009.0,417.6 L1010.6,420.2 L1012.2,422.7 L1013.8,425.3 L1015.4,427.8 L1017.0,430.3 L1018.6,432.8 L1020.3,435.4 L1021.9,437.9 L1023.6,440.4 L1025.2,442.9 L1026.9,445.3 L1028.6,447.8 L1030.3,450.3 L1031.9,452.8 L1033.6,455.2 L1035.3,457.7 L1037.0,460.1 L1038.7,462.6 L1040.4,465.1 L1042.1,467.5 L1043.8,470.0 L1045.5,472.4 L1047.2,474.9 L1048.9,477.3 L1050.6,479.8 L1052.3,482.2 L1054.0,484.7 L1055.7,487.2 L1057.4,489.6 L1059.1,492.1 L1060.7,494.6 L1062.4,497.1 L1064.0,499.5 L1065.7,502.0 L1067.3,504.5 L1068.9,507.0 L1070.5,509.6 L1072.2,512.1 L1073.8,514.6 L1075.4,517.1 L1076.9,519.7 L1078.5,522.2 L1080.1,524.8 L1081.7,527.3 L1083.2,529.9 L1084.8,532.4 L1086.4,535.0 L1087.9,537.5 L1089.5,540.1 L1091.1,542.6 L1092.6,545.2 L1094.2,547.7 L1095.8,550.3 L1097.3,552.8 L1098.9,555.4 L1100.5,557.9 L1102.1,560.5 L1103.7,563.0 L1105.3,565.5 L1106.9,568.1 L1108.5,570.6 L1110.1,573.1 L1111.7,575.6 L1113.4,578.1 L1115.0,580.6 L1116.7,583.1 L1118.4,585.6 L1120.1,588.1 L1121.7,590.5 L1123.4,593.0 L1125.1,595.5 L1126.9,597.9 L1128.6,600.4 L1130.3,602.8 L1132.0,605.3 L1133.8,607.7 L1135.5,610.1 L1137.3,612.6 L1139.0,615.0 L1140.8,617.4 L1142.5,619.9 L1144.3,622.3 L1146.0,624.7 L1147.8,627.1 L1149.6,629.6 L1151.3,632.0 L1153.1,634.4 L1154.9,636.8 L1156.6,639.3 L1158.4,641.7 L1160.1,644.1 L1161.9,646.5 L1163.6,649.0 L1165.4,651.4 L1167.1,653.8 L1168.9,656.3 L1170.6,658.7 L1172.4,661.2 L1174.1,663.6 L1175.9,666.0 L1177.6,668.5 L1179.3,670.9 L1181.1,673.3 L1182.8,675.8 L1184.6,678.2 L1186.3,680.6 L1188.1,683.1 L1189.9,685.5 L1191.6,687.9 L1193.4,690.3 L1195.2,692.7 L1197.0,695.1 L1198.8,697.5 L1200.6,699.9 L1202.4,702.3 L1204.2,704.7 L1206.0,707.0 L1207.9,709.4 L1209.7,711.7 L1211.6,714.1 L1213.5,716.4 L1215.4,718.7 L1217.3,721.0 L1219.2,723.3 L1221.1,725.6 L1223.0,727.9 L1225.0,730.2 L1227.0,732.4 L1228.9,734.7 L1230.9,736.9 L1232.9,739.2 L1234.9,741.4 L1237.0,743.6 L1239.0,745.8 L1241.0,748.0 L1243.1,750.2 L1245.2,752.3 L1247.2,754.5 L1249.3,756.7 L1251.4,758.8 L1253.5,761.0 L1255.6,763.1 L1257.7,765.2 L1259.8,767.3 L1262.0,769.5 L1264.1,771.6 L1266.3,773.7 L1268.4,775.8 L1270.6,777.8 L1272.7,779.9 L1274.9,782.0 L1277.1,784.1 L1279.2,786.1 L1281.4,788.2 L1283.6,790.2 L1285.8,792.3 L1288.0,794.3 L1290.2,796.3 L1292.4,798.3 L1294.6,800.4 L1296.9,802.4 L1299.1,804.4 L1301.3,806.4 L1303.6,808.3 L1305.8,810.3 L1308.1,812.3 L1310.3,814.3 L1312.6,816.2 L1314.9,818.1 L1317.1,820.1 L1319.4,822.0 L1321.7,823.9 L1324.0,825.8 L1326.3,827.7 L1328.6,829.6 L1331.0,831.5 L1333.3,833.4 L1335.6,835.3 L1338.0,837.1 L1340.3,839.0 L1342.7,840.8 L1345.1,842.6 L1347.4,844.4 L1349.8,846.2 L1352.2,848.0 L1354.6,849.8 L1357.0,851.6 L1359.4,853.4 L1361.8,855.1 L1364.3,856.9 L1366.7,858.6 L1369.2,860.3 L1371.6,862.1 L1374.1,863.8 L1376.5,865.5 L1379.0,867.2 L1381.5,868.8 L1383.9,870.5 L1386.4,872.2 L1388.9,873.8 L1391.4,875.5 L1393.9,877.1 L1396.4,878.8 L1399.0,880.4 L1401.5,882.0 L1404.0,883.6 L1406.6,885.2 L1409.1,886.8 L1411.6,888.4 L1414.2,889.9 L1416.7,891.5 L1419.3,893.1 L1421.9,894.6 L1424.4,896.1 L1427.0,897.7 L1429.6,899.2 L1432.2,900.7 L1434.8,902.2 L1437.4,903.7 L1440.0,905.2 L1442.6,906.7 L1445.2,908.2 L1447.8,909.6 L1450.4,911.1 L1453.0,912.5 L1455.7,914.0 L1458.3,915.4 L1460.9,916.8 L1463.6,918.2 L1466.2,919.6 L1468.9,921.0 L1471.5,922.4 L1474.2,923.7 L1476.8,925.1 L1479.5,926.5 L1482.2,927.8 L1484.9,929.1 L1487.6,930.4 L1490.2,931.7 L1492.9,933.0 L1495.6,934.3 L1498.3,935.6 L1501.0,936.9 L1503.8,938.1 L1506.5,939.4 L1509.2,940.6 L1511.9,941.9 L1514.6,943.1 L1517.4,944.3 L1520.1,945.5 L1522.8,946.7 L1525.6,947.9 L1528.3,949.1 L1531.1,950.3 L1533.8,951.5 L1536.6,952.7 L1539.3,953.9 L1542.1,955.0 L1544.8,956.2 L1547.6,957.4 L1550.3,958.5 L1553.1,959.7 L1555.9,960.8 L1558.6,962.0 L1561.4,963.2 L1564.2,964.3 L1566.9,965.5 L1569.7,966.6 L1572.5,967.8 L1575.2,968.9 L1578.0,970.1 L1580.8,971.2 L1583.6,972.4 L1586.3,973.5 L1589.1,974.6 L1591.9,975.7 L1594.7,976.8 L1597.5,977.9 L1600.3,979.0 L1603.1,980.1 L1605.9,981.1 L1608.7,982.1 L1611.5,983.1 L1614.4,984.1 L1617.2,985.0 L1620.0,985.9 L1622.9,986.8 L1625.8,987.6 L1628.6,988.5 L1631.5,989.2 L1634.4,990.0 L1637.3,990.7 L1640.2,991.4 L1643.2,992.0 L1646.1,992.6 L1649.1,993.1 L1652.0,993.6 L1655.0,994.0 L1665.0,1002.5 L1668.0,1002.9 L1670.9,1003.3 L1673.9,1003.8 L1676.8,1004.2 L1679.8,1004.7 L1682.7,1005.1 L1685.7,1005.6 L1688.6,1006.1 L1691.5,1006.6 L1694.5,1007.1 L1697.4,1007.6 L1700.4,1008.1 L1703.3,1008.7 L1706.2,1009.2 L1709.2,1009.8 L1712.1,1010.4 L1715.0,1011.0 L1717.9,1011.6 L1720.8,1012.2 L1723.8,1012.8 L1726.7,1013.4 L1729.6,1014.1 L1732.5,1014.8 L1735.4,1015.4 L1738.3,1016.1 L1741.2,1016.8 L1744.1,1017.5 L1747.0,1018.3 L1749.9,1019.0 L1752.8,1019.8 L1755.6,1020.5 L1758.5,1021.3 L1761.4,1022.0 L1764.3,1022.8 L1767.2,1023.6 L1770.1,1024.3 L1773.0,1025.1 L1775.8,1025.9 L1778.7,1026.7 L1781.6,1027.4 L1784.5,1028.2 L1787.4,1029.0 L1790.3,1029.7 L1793.1,1030.5 L1796.0,1031.2 L1798.9,1031.9 L1801.8,1032.7 L1804.7,1033.4 L1807.6,1034.1 L1810.5,1034.8 L1813.4,1035.5 L1816.3,1036.1 L1819.2,1036.8 L1822.2,1037.4 L1825.1,1038.1 L1828.0,1038.7 L1830.9,1039.4 L1833.8,1040.0 L1836.7,1040.6 L1839.7,1041.2 L1842.6,1041.8 L1845.5,1042.4 L1848.4,1043.0 L1851.4,1043.6 L1854.3,1044.2 L1857.2,1044.8 L1860.1,1045.3 L1863.1,1045.9 L1866.0,1046.5 L1868.9,1047.1 L1871.9,1047.6 L1874.8,1048.2 L1877.7,1048.8 L1880.6,1049.3 L1883.6,1049.9 L1886.5,1050.5 L1889.4,1051.0 L1892.4,1051.6 L1895.3,1052.1 L1898.2,1052.7 L1901.2,1053.2 L1904.1,1053.7 L1907.1,1054.2 L1910.0,1054.7 L1912.9,1055.2 L1915.9,1055.7 L1918.8,1056.1 L1921.8,1056.6 L1924.7,1057.0 L1927.7,1057.4 L1930.7,1057.8 L1933.6,1058.1 L1936.6,1058.4 L1939.5,1058.8 L1942.5,1059.0 L1945.5,1059.3" fill="none" stroke="#8f0090" stroke-width="8" stroke-linejoin="round"/>
<path d="M340.0,345.5 L342.6,344.0 L345.3,342.4 L347.9,340.9 L350.5,339.3 L353.0,337.8 L355.6,336.2 L358.2,334.6 L360.7,333.1 L363.2,331.5 L365.8,329.9 L368.3,328.3 L370.8,326.7 L373.3,325.2 L375.8,323.6 L378.4,322.0 L380.9,320.4 L383.4,318.9 L385.9,317.3 L388.5,315.8 L391.0,314.2 L393.6,312.7 L396.1,311.2 L398.7,309.7 L401.3,308.2 L403.9,306.7 L406.5,305.3 L409.1,303.8 L411.8,302.4 L414.4,301.0 L417.1,299.6 L419.9,298.3 L422.6,296.9 L425.3,295.6 L428.1,294.3 L430.9,293.1 L433.7,291.9 L436.5,290.7 L439.4,289.6 L442.2,288.6 L445.1,287.6 L448.0,286.6 L450.8,285.7 L453.7,284.9 L456.6,284.1 L459.5,283.4 L462.4,282.8 L465.4,282.2 L468.3,281.8 L471.2,281.4 L474.1,281.1 L477.0,280.9 L479.9,280.8 L482.8,280.7 L485.7,280.8 L488.6,281.0 L491.5,281.3 L494.4,281.7 L497.3,282.2 L500.1,282.7 L503.0,283.4 L505.8,284.2 L508.7,285.1 L511.5,286.0 L514.3,287.0 L517.1,288.1 L519.8,289.3 L522.6,290.5 L525.3,291.8 L528.1,293.2 L530.8,294.6 L533.5,296.0 L536.1,297.6 L538.8,299.1 L541.4,300.7 L544.0,302.4 L546.6,304.1 L549.2,305.8 L551.7,307.5 L554.2,309.3 L556.7,311.1 L559.2,312.9 L561.6,314.8 L564.0,316.6 L566.4,318.5 L568.7,320.3 L571.1,322.2 L573.4,324.1 L575.6,326.0 L577.9,327.9 L580.1,329.8 L582.3,331.7 L584.5,333.6 L586.7,335.6 L588.8,337.5 L591.0,339.5 L593.1,341.5 L595.2,343.5 L597.3,345.5 L599.4,347.5 L601.5,349.6 L603.6,351.6 L605.6,353.7 L607.7,355.8 L609.8,357.9 L611.8,360.0 L613.9,362.1 L615.9,364.3 L617.9,366.4 L620.0,368.6 L622.0,370.8 L624.1,373.0 L626.1,375.3 L628.2,377.5 L630.3,379.8 L632.4,382.1 L634.4,384.3 L636.5,386.6 L638.6,388.9 L640.8,391.2 L642.9,393.5 L645.0,395.8 L647.2,398.1 L649.3,400.3 L651.5,402.5 L653.7,404.7 L656.0,406.9 L658.2,409.0 L660.5,411.1 L662.7,413.1 L665.0,415.1 L667.4,417.1 L669.7,418.9 L672.1,420.8 L674.5,422.5 L676.9,424.2 L679.4,425.8 L681.8,427.4 L684.3,428.8 L686.9,430.2 L689.4,431.5 L692.0,432.7 L694.7,433.8 L697.3,434.8 L700.0,435.7 L702.8,436.5 L705.5,437.2 L708.3,437.9 L711.1,438.4 L713.9,438.9 L716.8,439.4 L719.7,439.7 L722.6,440.0 L725.5,440.2 L728.4,440.3 L731.4,440.4 L734.3,440.5 L737.3,440.4 L740.3,440.4 L743.3,440.3 L746.3,440.1 L749.4,439.9 L752.4,439.6 L755.4,439.4 L758.5,439.1 L761.5,438.7 L764.6,438.4 L767.6,438.0 L770.7,437.6 L773.8,437.2 L776.8,436.7 L779.9,436.3 L782.9,435.9 L786.0,435.5 L789.0,435.1 L792.1,434.7 L795.1,434.3 L798.2,433.9 L801.2,433.6 L804.2,433.3 L807.2,433.0 L810.2,432.8 L813.2,432.6 L816.2,432.5 L819.1,432.4 L822.1,432.3 L825.0,432.4 L828.0,432.5 L830.9,432.6 L833.8,432.9 L836.6,433.2 L839.5,433.6 L842.3,434.1 L845.1,434.6 L847.9,435.3 L850.7,436.1 L853.4,436.9 L856.2,437.9 L858.9,438.9 L861.5,440.0 L864.2,441.2 L866.8,442.5 L869.4,443.9 L872.0,445.3 L874.6,446.8 L877.1,448.4 L879.6,450.1 L882.1,451.8 L884.6,453.5 L887.0,455.3 L889.5,457.2 L891.9,459.1 L894.2,461.1 L896.6,463.0 L898.9,465.1 L901.2,467.2 L903.5,469.3 L905.7,471.4 L907.9,473.6 L910.1,475.7 L912.3,477.9 L914.4,480.2 L916.6,482.4 L918.7,484.6 L920.7,486.9 L922.8,489.2 L924.8,491.4 L926.8,493.7 L928.8,496.0 L930.7,498.3 L932.6,500.6 L934.6,502.9 L936.4,505.2 L938.3,507.5 L940.2,509.8 L942.0,512.1 L943.8,514.5 L945.6,516.8 L947.4,519.2 L949.2,521.5 L951.0,523.9 L952.7,526.2 L954.5,528.6 L956.2,531.0 L958.0,533.4 L959.7,535.8 L961.4,538.2 L963.1,540.6 L964.8,543.0 L966.5,545.4 L968.2,547.9 L969.8,550.3 L971.5,552.7 L973.2,555.2 L974.9,557.6 L976.6,560.1 L978.3,562.6 L979.9,565.1 L981.6,567.5 L983.3,570.0 L985.0,572.5 L986.7,575.0 L988.4,577.5 L990.0,580.0 L991.7,582.5 L993.4,585.0 L995.1,587.5 L996.8,590.0 L998.5,592.5 L1000.2,595.0 L1001.9,597.5 L1003.6,600.0 L1005.3,602.5 L1007.0,605.0 L1008.7,607.5 L1010.4,610.0 L1012.1,612.4 L1013.8,614.9 L1015.6,617.4 L1017.3,619.9 L1019.0,622.4 L1020.8,624.8 L1022.5,627.3 L1024.3,629.7 L1026.0,632.2 L1027.8,634.6 L1029.5,637.0 L1031.3,639.5 L1033.1,641.9 L1034.8,644.3 L1036.6,646.7 L1038.4,649.1 L1040.2,651.5 L1042.0,653.9 L1043.7,656.3 L1045.5,658.7 L1047.3,661.1 L1049.1,663.5 L1050.9,665.8 L1052.7,668.2 L1054.6,670.6 L1056.4,673.0 L1058.2,675.3 L1060.0,677.7 L1061.8,680.1 L1063.6,682.4 L1065.4,684.8 L1067.3,687.2 L1069.1,689.5 L1070.9,691.9 L1072.7,694.3 L1074.5,696.6 L1076.4,699.0 L1078.2,701.4 L1080.0,703.8 L1081.8,706.1 L1083.7,708.5 L1085.5,710.9 L1087.3,713.3 L1089.1,715.7 L1091.0,718.0 L1092.8,720.4 L1094.6,722.8 L1096.5,725.2 L1098.3,727.6 L1100.1,729.9 L1102.0,732.3 L1103.8,734.7 L1105.7,737.1 L1107.5,739.4 L1109.4,741.8 L1111.2,744.2 L1113.1,746.5 L1115.0,748.9 L1116.8,751.2 L1118.7,753.6 L1120.6,755.9 L1122.5,758.2 L1124.4,760.6 L1126.3,762.9 L1128.2,765.2 L1130.1,767.5 L1132.1,769.8 L1134.0,772.1 L1135.9,774.4 L1137.9,776.7 L1139.8,779.0 L1141.8,781.2 L1143.8,783.5 L1145.7,785.7 L1147.7,788.0 L1149.7,790.2 L1151.7,792.4 L1153.7,794.6 L1155.7,796.8 L1157.8,799.0 L1159.8,801.2 L1161.9,803.4 L1163.9,805.6 L1166.0,807.7 L1168.0,809.9 L1170.1,812.0 L1172.2,814.2 L1174.3,816.3 L1176.4,818.4 L1178.6,820.5 L1180.7,822.6 L1182.8,824.7 L1185.0,826.8 L1187.1,828.8 L1189.3,830.9 L1191.5,832.9 L1193.7,835.0 L1195.9,837.0 L1198.1,839.0 L1200.3,841.0 L1202.6,843.0 L1204.8,845.0 L1207.1,847.0 L1209.4,848.9 L1211.6,850.9 L1213.9,852.8 L1216.2,854.8 L1218.5,856.7 L1220.9,858.6 L1223.2,860.5 L1225.5,862.3 L1227.9,864.2 L1230.3,866.1 L1232.6,867.9 L1235.0,869.7 L1237.4,871.5 L1239.8,873.3 L1242.2,875.1 L1244.7,876.9 L1247.1,878.6 L1249.5,880.4 L1252.0,882.1 L1254.5,883.8 L1256.9,885.5 L1259.4,887.2 L1261.9,888.8 L1264.4,890.5 L1266.9,892.1 L1269.4,893.7 L1272.0,895.3 L1274.5,896.9 L1277.1,898.5 L1279.6,900.0 L1282.2,901.5 L1284.7,903.1 L1287.3,904.6 L1289.9,906.1 L1292.5,907.6 L1295.1,909.1 L1297.7,910.6 L1300.3,912.1 L1302.9,913.5 L1305.5,915.0 L1308.1,916.5 L1310.7,917.9 L1313.3,919.4 L1316.0,920.8 L1318.6,922.3 L1321.2,923.7 L1323.8,925.1 L1326.5,926.6 L1329.1,928.0 L1331.7,929.5 L1334.3,930.9 L1337.0,932.4 L1339.6,933.8 L1342.2,935.3 L1344.8,936.8 L1347.4,938.2 L1350.0,939.7 L1352.6,941.2 L1355.3,942.7 L1357.9,944.2 L1360.5,945.7 L1363.1,947.2 L1365.7,948.7 L1368.3,950.2 L1370.9,951.6 L1373.5,953.1 L1376.1,954.6 L1378.7,956.1 L1381.3,957.6 L1384.0,959.0 L1386.6,960.5 L1389.2,962.0 L1391.8,963.4 L1394.5,964.9 L1397.1,966.3 L1399.7,967.7 L1402.4,969.1 L1405.0,970.5 L1407.7,971.9 L1410.3,973.3 L1413.0,974.7 L1415.7,976.0 L1418.4,977.3 L1421.1,978.6 L1423.8,979.9 L1426.5,981.2 L1429.2,982.5 L1431.9,983.7 L1434.6,985.0 L1437.4,986.2 L1440.1,987.4 L1442.9,988.6 L1445.6,989.7 L1448.4,990.9 L1451.1,992.0 L1453.9,993.1 L1456.7,994.2 L1459.5,995.3 L1462.3,996.4 L1465.1,997.5 L1467.9,998.5 L1470.7,999.6 L1473.5,1000.6 L1476.3,1001.6 L1479.2,1002.6 L1482.0,1003.6 L1484.8,1004.6 L1487.6,1005.5 L1490.5,1006.5 L1493.3,1007.4 L1496.2,1008.4 L1499.0,1009.3 L1501.9,1010.2 L1504.7,1011.1 L1507.6,1012.0 L1510.5,1012.9 L1513.3,1013.8 L1516.2,1014.6 L1519.1,1015.5 L1522.0,1016.3 L1524.8,1017.2 L1527.7,1018.0 L1530.6,1018.8 L1533.5,1019.6 L1536.4,1020.4 L1539.2,1021.2 L1542.1,1022.0 L1545.0,1022.8 L1547.9,1023.6 L1550.8,1024.4 L1553.7,1025.1 L1556.6,1025.9 L1559.5,1026.7 L1562.4,1027.4 L1565.3,1028.2 L1568.2,1028.9 L1571.1,1029.6 L1574.0,1030.3 L1576.9,1031.1 L1579.9,1031.8 L1582.8,1032.5 L1585.7,1033.2 L1588.6,1033.9 L1591.5,1034.6 L1594.4,1035.3 L1597.3,1036.0 L1600.2,1036.7 L1603.2,1037.4 L1606.1,1038.1 L1609.0,1038.8 L1611.9,1039.4 L1614.8,1040.1 L1617.8,1040.8 L1620.7,1041.4 L1623.6,1042.1 L1626.5,1042.8 L1629.4,1043.4 L1632.4,1044.1 L1635.3,1044.8 L1638.2,1045.4 L1641.1,1046.1 L1644.1,1046.7 L1647.0,1047.4 L1649.9,1048.0 L1652.8,1048.7 L1655.8,1049.3 L1658.7,1050.0 L1661.6,1050.6 L1664.5,1051.3 L1667.5,1051.9 L1670.4,1052.5 L1673.3,1053.2 L1676.2,1053.8 L1679.2,1054.5 L1682.1,1055.1 L1685.0,1055.7 L1688.0,1056.4 L1690.9,1057.0 L1693.8,1057.7 L1696.7,1058.3 L1699.7,1058.9 L1702.6,1059.6 L1705.5,1060.2 L1708.5,1060.8 L1711.4,1061.4 L1714.3,1062.1 L1717.3,1062.7 L1720.2,1063.3 L1723.1,1063.9 L1726.1,1064.5 L1729.0,1065.1 L1731.9,1065.7 L1734.9,1066.3 L1737.8,1066.9 L1740.7,1067.5 L1743.7,1068.1 L1746.6,1068.7 L1749.6,1069.2 L1752.5,1069.8 L1755.5,1070.4 L1758.4,1070.9 L1761.3,1071.5 L1764.3,1072.0 L1767.2,1072.5 L1770.2,1073.0 L1773.1,1073.6 L1776.1,1074.1 L1779.1,1074.6 L1782.0,1075.1 L1785.0,1075.6 L1787.9,1076.1 L1790.9,1076.5 L1793.8,1077.0 L1796.8,1077.5 L1799.8,1077.9 L1802.7,1078.4 L1805.7,1078.9 L1808.7,1079.3 L1811.6,1079.8 L1814.6,1080.2 L1817.6,1080.6 L1820.5,1081.1 L1823.5,1081.5 L1826.5,1081.9 L1829.4,1082.4 L1832.4,1082.8 L1835.4,1083.2 L1838.3,1083.6 L1841.3,1084.0 L1844.3,1084.5 L1847.2,1084.9 L1850.2,1085.3 L1853.2,1085.7 L1856.2,1086.1 L1859.1,1086.5 L1862.1,1086.9 L1865.1,1087.3 L1868.0,1087.8 L1871.0,1088.2 L1874.0,1088.6 L1876.9,1089.0 L1879.9,1089.4 L1882.9,1089.7 L1885.9,1090.1 L1888.8,1090.5 L1891.8,1090.9 L1894.8,1091.3 L1897.7,1091.6 L1900.7,1092.0 L1903.7,1092.3 L1906.7,1092.7 L1909.7,1093.0 L1912.6,1093.3 L1915.6,1093.6 L1918.6,1093.9 L1921.6,1094.2 L1924.6,1094.5 L1927.5,1094.8 L1930.5,1095.1 L1933.5,1095.3 L1936.5,1095.6 L1939.5,1095.8 L1942.5,1096.0 L1945.5,1096.2" fill="none" stroke="#9a0000" stroke-width="10.5" stroke-linejoin="round"/>
<rect x="1091.8" y="96.2" width="115" height="8" fill="#8f0090"/>
<rect x="1091.8" y="168.6" width="115" height="8" fill="#ff4b2e"/>
<rect x="1088.4" y="239.3" width="118.3" height="10" fill="#9a0000"/>
<text x="207.5" y="195.8" font-family="'DejaVu Sans', sans-serif" font-weight="normal" font-size="56.5" text-anchor="start" textLength="94.1" lengthAdjust="spacingAndGlyphs" fill="#1e1e1e">1.1</text>
<text x="208.5" y="294.3" font-family="'DejaVu Sans', sans-serif" font-weight="normal" font-size="56.5" text-anchor="start" textLength="92.1" lengthAdjust="spacingAndGlyphs" fill="#1e1e1e">1.0</text>
<text x="210.5" y="392.8" font-family="'DejaVu Sans', sans-serif" font-weight="normal" font-size="56.5" text-anchor="start" textLength="90.1" lengthAdjust="spacingAndGlyphs" fill="#1e1e1e">0.9</text>
<text x="210.5" y="491.3" font-family="'DejaVu Sans', sans-serif" font-weight="normal" font-size="56.5" text-anchor="start" textLength="90.1" lengthAdjust="spacingAndGlyphs" fill="#1e1e1e">0.8</text>
<text x="210.5" y="589.8" font-family="'DejaVu Sans', sans-serif" font-weight="normal" font-size="56.5" text-anchor="start" textLength="90.1" lengthAdjust="spacingAndGlyphs" fill="#1e1e1e">0.7</text>
<text x="210.5" y="688.3" font-family="'DejaVu Sans', sans-serif" font-weight="normal" font-size="56.5" text-anchor="start" textLength="89.1" lengthAdjust="spacingAndGlyphs" fill="#1e1e1e">0.6</text>
<text x="210.5" y="786.8" font-family="'DejaVu Sans', sans-serif" font-weight="normal" font-size="56.5" text-anchor="start" textLength="91.1" lengthAdjust="spacingAndGlyphs" fill="#1e1e1e">0.5</text>
<text x="210.5" y="885.3" font-family="'DejaVu Sans', sans-serif" font-weight="normal" font-size="56.5" text-anchor="start" textLength="89.1" lengthAdjust="spacingAndGlyphs" fill="#1e1e1e">0.4</text>
<text x="210.5" y="983.8" font-family="'DejaVu Sans', sans-serif" font-weight="normal" font-size="56.5" text-anchor="start" textLength="90.1" lengthAdjust="spacingAndGlyphs" fill="#1e1e1e">0.3</text>
<text x="210.5" y="1082.3" font-family="'DejaVu Sans', sans-serif" font-weight="normal" font-size="56.5" text-anchor="start" textLength="91.1" lengthAdjust="spacingAndGlyphs" fill="#1e1e1e">0.2</text>
<text x="210.5" y="1180.8" font-family="'DejaVu Sans', sans-serif" font-weight="normal" font-size="56.5" text-anchor="start" textLength="91.1" lengthAdjust="spacingAndGlyphs" fill="#1e1e1e">0.1</text>
<text x="210.5" y="1279.3" font-family="'DejaVu Sans', sans-serif" font-weight="normal" font-size="56.5" text-anchor="start" textLength="90.1" lengthAdjust="spacingAndGlyphs" fill="#1e1e1e">0.0</text>
<text x="188.5" y="1377.8" font-family="'DejaVu Sans', sans-serif" font-weight="normal" font-size="56.5" text-anchor="start" textLength="113.2" lengthAdjust="spacingAndGlyphs" fill="#1e1e1e">-0.1</text>
<text x="285.0" y="1452" font-family="'DejaVu Sans', sans-serif" font-weight="normal" font-size="56.5" text-anchor="start" textLength="107.0" lengthAdjust="spacingAndGlyphs" fill="#1e1e1e">400</text>
<text x="486.0" y="1452" font-family="'DejaVu Sans', sans-serif" font-weight="normal" font-size="56.5" text-anchor="start" textLength="107.0" lengthAdjust="spacingAndGlyphs" fill="#1e1e1e">450</text>
<text x="685.0" y="1452" font-family="'DejaVu Sans', sans-serif" font-weight="normal" font-size="56.5" text-anchor="start" textLength="108.0" lengthAdjust="spacingAndGlyphs" fill="#1e1e1e">500</text>
<text x="885.0" y="1452" font-family="'DejaVu Sans', sans-serif" font-weight="normal" font-size="56.5" text-anchor="start" textLength="109.0" lengthAdjust="spacingAndGlyphs" fill="#1e1e1e">550</text>
<text x="1086.0" y="1452" font-family="'DejaVu Sans', sans-serif" font-weight="normal" font-size="56.5" text-anchor="start" textLength="108.0" lengthAdjust="spacingAndGlyphs" fill="#1e1e1e">600</text>
<text x="1287.0" y="1452" font-family="'DejaVu Sans', sans-serif" font-weight="normal" font-size="56.5" text-anchor="start" textLength="108.0" lengthAdjust="spacingAndGlyphs" fill="#1e1e1e">650</text>
<text x="1487.0" y="1452" font-family="'DejaVu Sans', sans-serif" font-weight="normal" font-size="56.5" text-anchor="start" textLength="109.0" lengthAdjust="spacingAndGlyphs" fill="#1e1e1e">700</text>
<text x="1687.0" y="1452" font-family="'DejaVu Sans', sans-serif" font-weight="normal" font-size="56.5" text-anchor="start" textLength="109.0" lengthAdjust="spacingAndGlyphs" fill="#1e1e1e">750</text>
<text x="1889.0" y="1452" font-family="'DejaVu Sans', sans-serif" font-weight="normal" font-size="56.5" text-anchor="start" textLength="108.0" lengthAdjust="spacingAndGlyphs" fill="#1e1e1e">800</text>
<text x="386.0" y="81.3" font-family="'DejaVu Sans', sans-serif" font-weight="normal" font-size="59" text-anchor="start" textLength="155.4" lengthAdjust="spacingAndGlyphs" fill="#1e1e1e">LSPR</text>
<text x="388.0" y="153.6" font-family="'DejaVu Sans', sans-serif" font-weight="normal" font-size="59" text-anchor="start" textLength="185.1" lengthAdjust="spacingAndGlyphs" fill="#1e1e1e">AgNPs</text>
<text x="780.5" y="77.3" font-family="'DejaVu Sans', sans-serif" font-weight="normal" font-size="59" text-anchor="start" textLength="159.0" lengthAdjust="spacingAndGlyphs" fill="#1e1e1e">LSPR</text>
<text x="786.5" y="146.8" font-family="'DejaVu Sans', sans-serif" font-weight="normal" font-size="59" text-anchor="start" textLength="183.5" lengthAdjust="spacingAndGlyphs" fill="#1e1e1e">AuNPs</text>
<text x="1211.5" y="116.5" font-family="'DejaVu Sans', sans-serif" font-weight="normal" font-size="58.5" text-anchor="start" textLength="493.7" lengthAdjust="spacingAndGlyphs" fill="#1e1e1e">[PAH/PAA-AuNPs]</text>
<text x="1215.5" y="186.7" font-family="'DejaVu Sans', sans-serif" font-weight="normal" font-size="58.5" text-anchor="start" textLength="492.6" lengthAdjust="spacingAndGlyphs" fill="#1e1e1e">[PAH/PAA-AgNPs]</text>
<text x="1215.5" y="259.5" font-family="'DejaVu Sans', sans-serif" font-weight="normal" font-size="58.5" text-anchor="start" textLength="1046.8" lengthAdjust="spacingAndGlyphs" fill="#1e1e1e">[PAH/PAA-AgNPs] + [PAH/PAA-AuNPs]</text>
<text x="757.0" y="1552.0" font-family="'Liberation Sans', sans-serif" font-weight="bold" font-size="96" text-anchor="start" textLength="770.3" lengthAdjust="spacingAndGlyphs" fill="#1e1e1e">Wavelength (nm)</text>
<text transform="translate(91,1153.0) rotate(-90)" x="0" y="0" font-family="'Liberation Sans', sans-serif" font-weight="bold" font-size="96" textLength="805.0" lengthAdjust="spacingAndGlyphs" fill="#1e1e1e">Absorbance (a.u.)</text>
</svg></body></html>
